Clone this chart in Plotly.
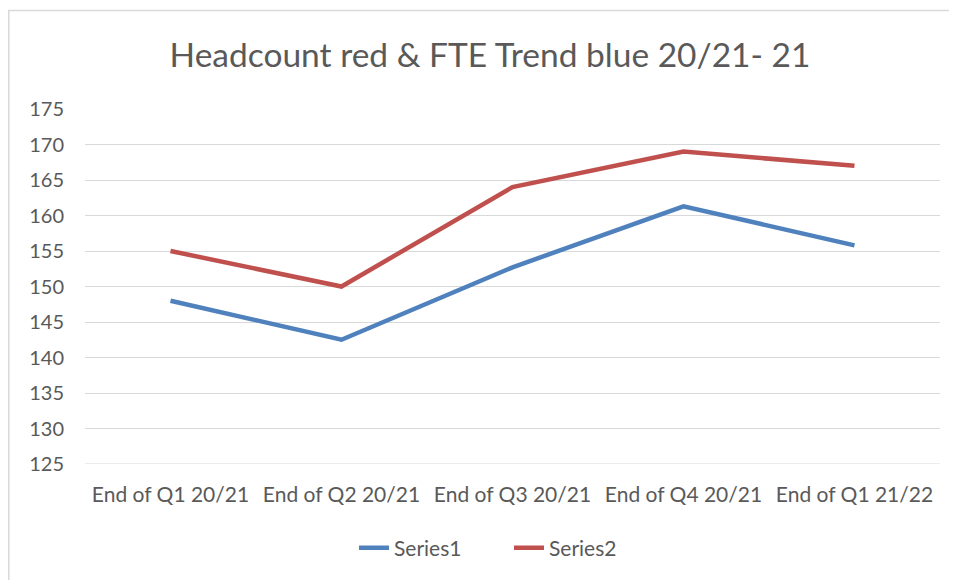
import plotly.graph_objects as go

categories = ["End of Q1 20/21", "End of Q2 20/21", "End of Q3 20/21", "End of Q4 20/21", "End of Q1 21/22"]
series1 = [148.0, 142.5, 152.7, 161.3, 155.8]
series2 = [155, 150, 164, 169, 167]
y_ticks = [125, 130, 135, 140, 145, 150, 155, 160, 165, 170, 175]

FONT = "Lato, 'Open Sans', sans-serif"
TXT = "#595959"
OFF = 8  # default page body margin

fig = go.Figure()
fig.add_trace(go.Scatter(x=categories, y=series1, mode="lines", name="Series1",
                         line=dict(color="#4F81BD", width=4.5)))
fig.add_trace(go.Scatter(x=categories, y=series2, mode="lines", name="Series2",
                         line=dict(color="#C0504D", width=4.5)))

W, H = 957, 580
L, R, T, B = 85 - OFF, 940 - OFF, 109 - OFF, 464 - OFF
fig.update_layout(
    width=W, height=H,
    margin=dict(l=L, r=W - R, t=T, b=H - B),
    paper_bgcolor="white", plot_bgcolor="white",
    font=dict(family=FONT, color=TXT, size=19),
    title=dict(text="Headcount red & FTE Trend blue 20/21- 21", x=(490 - OFF) / W, xanchor="center",
               y=1 - (55 - OFF) / H, yanchor="middle", font=dict(size=33.5, color=TXT, family=FONT)),
    xaxis=dict(showgrid=False, showline=False, zeroline=False, ticks="",
               tickfont=dict(size=21, color=TXT), range=[-0.5, 4.5], ticklabelstandoff=16),
    yaxis=dict(range=[125, 175], tickvals=y_ticks, showgrid=True, gridcolor="#d9d9d9",
               gridwidth=1.2, zeroline=False, showline=False, ticks="",
               tickfont=dict(size=20, color=TXT), ticklabelstandoff=20),
    legend=dict(orientation="h", x=(509 - OFF - L) / (R - L), xanchor="center",
                y=-(548 - 464) / (B - T), yanchor="middle", font=dict(size=21, color=TXT),
                entrywidth=110, entrywidthmode="pixels"),
    showlegend=True,
)
# bottom gridline at 125
fig.add_shape(type="line", xref="paper", yref="y", x0=0, x1=1, y0=125, y1=125,
              line=dict(color="#d9d9d9", width=1.2), layer="below")
# chart-area border
fig.add_shape(type="rect", xref="paper", yref="paper",
              x0=(0.8 - L) / (R - L), x1=(962 - L) / (R - L),
              y0=(B - 585) / (B - T), y1=(B - 2.5) / (B - T),
              line=dict(color="#d9d9d9", width=1.5), fillcolor="rgba(0,0,0,0)", layer="below")

fig.write_html("out.html")
